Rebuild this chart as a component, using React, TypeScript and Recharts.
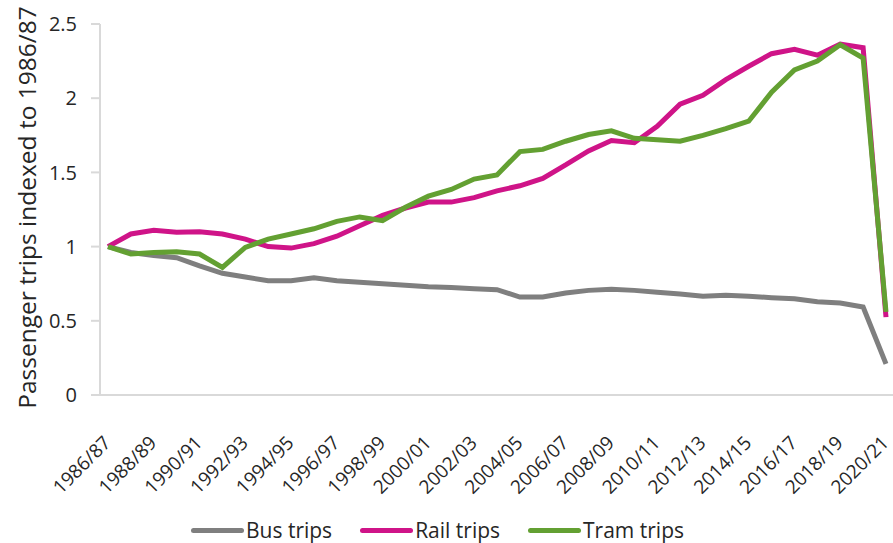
import { LineChart, Line, XAxis, YAxis, Legend } from "recharts"

const years = [
    "1986/87", "1987/88", "1988/89", "1989/90", "1990/91", "1991/92", "1992/93",
    "1993/94", "1994/95", "1995/96", "1996/97", "1997/98", "1998/99", "1999/00",
    "2000/01", "2001/02", "2002/03", "2003/04", "2004/05", "2005/06", "2006/07",
    "2007/08", "2008/09", "2009/10", "2010/11", "2011/12", "2012/13", "2013/14",
    "2014/15", "2015/16", "2016/17", "2017/18", "2018/19", "2019/20", "2020/21",
]

const busTrips = [
    1.0, 0.96, 0.94, 0.925, 0.87, 0.82, 0.795, 0.77, 0.77, 0.79, 0.77, 0.76,
    0.75, 0.74, 0.73, 0.725, 0.716, 0.71, 0.66, 0.66, 0.687, 0.705, 0.713,
    0.705, 0.693, 0.68, 0.665, 0.672, 0.665, 0.656, 0.649, 0.628, 0.62, 0.593,
    0.21,
]

const railTrips = [
    1.0, 1.085, 1.11, 1.096, 1.1, 1.085, 1.05, 1.0, 0.99, 1.02, 1.07, 1.14,
    1.21, 1.26, 1.3, 1.3, 1.33, 1.376, 1.41, 1.46, 1.55, 1.645, 1.715, 1.7,
    1.81, 1.96, 2.02, 2.125, 2.215, 2.3, 2.33, 2.29, 2.365, 2.34, 0.525,
]

const tramTrips = [
    1.0, 0.95, 0.96, 0.965, 0.95, 0.86, 0.995, 1.05, 1.085, 1.12, 1.17, 1.2,
    1.175, 1.265, 1.34, 1.385, 1.455, 1.483, 1.64, 1.655, 1.71, 1.755, 1.78,
    1.73, 1.72, 1.71, 1.75, 1.795, 1.845, 2.04, 2.19, 2.25, 2.36, 2.27, 0.56,
]

const yTicks = [0, 0.5, 1, 1.5, 2, 2.5]

const series = [
    { key: "bus", name: "Bus trips", color: "#7f7f7f" },
    { key: "rail", name: "Rail trips", color: "#cf1488" },
    { key: "tram", name: "Tram trips", color: "#63a032" },
]

const data = years.map((year, i) => ({
    year,
    bus: busTrips[i],
    rail: railTrips[i],
    tram: tramTrips[i],
}))

const font = "'Open Sans', sans-serif"
const textColor = "#262626"
const axisColor = "#d9d9d9"

function YearTick({ x, y, payload }: any) {
    const tx = x + 4
    const ty = y + 41
    return (
        <text
            x={tx}
            y={ty}
            transform={`rotate(-45 ${tx} ${ty})`}
            textAnchor="end"
            fill={textColor}
            fontSize={19}
            fontFamily={font}
        >
            {payload.value}
        </text>
    )
}

function ChartLegend() {
    return (
        <div
            style={{
                display: "flex",
                justifyContent: "center",
                paddingTop: 24,
                paddingRight: 18,
                fontFamily: font,
                fontSize: 21,
                color: textColor,
                lineHeight: "22px",
            }}
        >
            {series.map((s) => (
                <div key={s.key} style={{ display: "flex", alignItems: "center", margin: "0 14px" }}>
                    <span
                        style={{
                            display: "inline-block",
                            width: 53,
                            height: 5,
                            borderRadius: 3,
                            background: s.color,
                            marginRight: 2,
                        }}
                    />
                    <span>{s.name}</span>
                </div>
            ))}
        </div>
    )
}

export default function App() {
    return (
        <div style={{ position: "absolute", left: 0, top: 0, background: "#fff" }}>
            <LineChart
                width={893}
                height={543}
                data={data}
                margin={{ top: 24, right: 0, bottom: 0, left: 0 }}
            >
                <XAxis
                    dataKey="year"
                    interval={1}
                    tick={<YearTick />}
                    tickLine={false}
                    axisLine={{ stroke: axisColor, strokeWidth: 2 }}
                    padding={{ left: 8, right: 7 }}
                    height={100}
                />
                <YAxis
                    domain={[0, 2.5]}
                    ticks={yTicks}
                    width={100}
                    tickSize={9}
                    tickMargin={14}
                    tickLine={{ stroke: axisColor, strokeWidth: 2 }}
                    axisLine={{ stroke: axisColor, strokeWidth: 2 }}
                    tick={{ fill: textColor, fontSize: 20, fontFamily: font }}
                    label={({ viewBox }: any) => (
                        <text
                            x={viewBox.x + 26}
                            y={viewBox.y + viewBox.height / 2 - 2}
                            transform={`rotate(-90 ${viewBox.x + 26} ${viewBox.y + viewBox.height / 2 - 2})`}
                            textAnchor="middle"
                            dominantBaseline="central"
                            fill={textColor}
                            fontSize={24.5}
                            fontFamily={font}
                        >
                            Passenger trips indexed to 1986/87
                        </text>
                    )}
                />
                <Legend verticalAlign="bottom" height={48} content={<ChartLegend />} />
                {series.map((s) => (
                    <Line
                        key={s.key}
                        type="linear"
                        dataKey={s.key}
                        name={s.name}
                        stroke={s.color}
                        strokeWidth={5}
                        dot={false}
                        isAnimationActive={false}
                    />
                ))}
            </LineChart>
        </div>
    )
}
